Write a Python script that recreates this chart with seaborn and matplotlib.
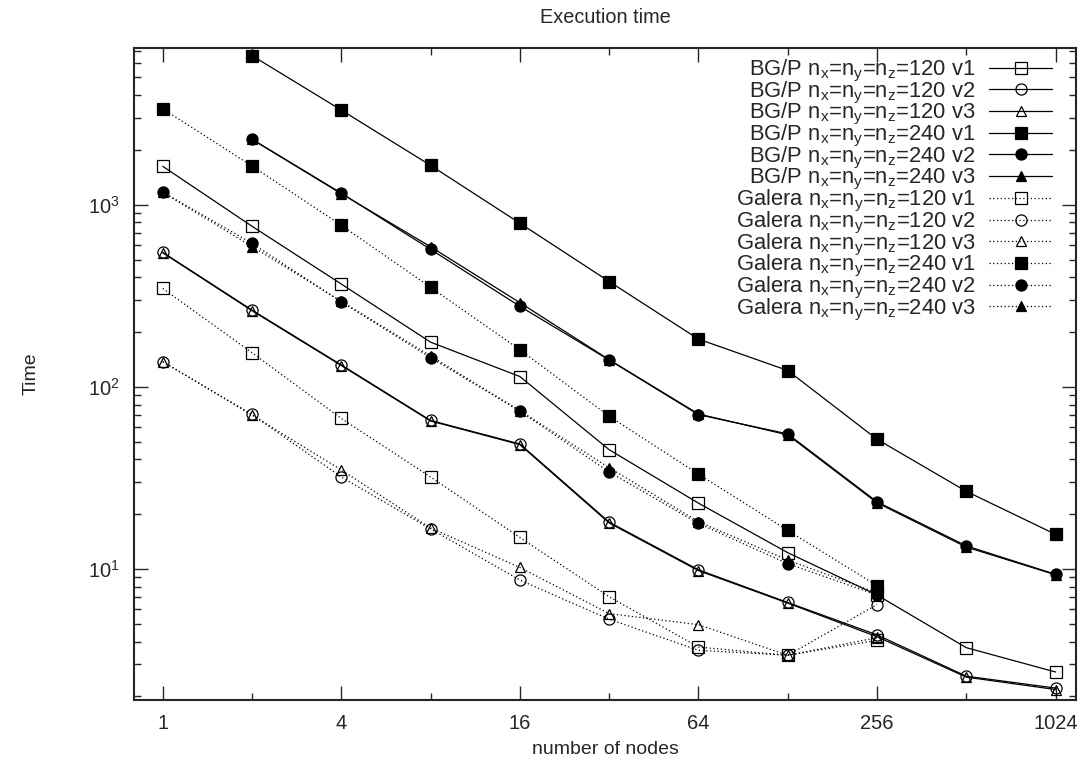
import pandas as pd
import seaborn as sns
import matplotlib.pyplot as plt
from matplotlib.ticker import FixedLocator, FixedFormatter, LogLocator, NullFormatter

# node counts for each machine / problem size
nodes_bgp120 = [1, 2, 4, 8, 16, 32, 64, 128, 256, 512, 1024]
nodes_bgp240 = [2, 4, 8, 16, 32, 64, 128, 256, 512, 1024]
nodes_galera = [1, 2, 4, 8, 16, 32, 64, 128, 256]

# execution times
bgp_120_v1 = [1626, 762, 367, 176, 114, 45.2, 23.0, 12.3, 7.2, 3.7, 2.72]
bgp_120_v2 = [548, 264, 132, 65.4, 48.6, 18.1, 9.9, 6.55, 4.35, 2.58, 2.22]
bgp_120_v3 = [545, 262, 131, 65.0, 48.2, 17.9, 9.8, 6.5, 4.25, 2.55, 2.18]
bgp_240_v1 = [6590, 3310, 1645, 792, 379, 183, 123, 51.6, 26.7, 15.5]
bgp_240_v2 = [2290, 1158, 569, 277, 140.5, 70.4, 55.2, 23.4, 13.4, 9.35]
bgp_240_v3 = [2285, 1150, 588, 290, 141, 71, 54.5, 23.1, 13.2, 9.3]
gal_120_v1 = [347, 154, 67.1, 32.0, 14.9, 7.04, 3.73, 3.36, 4.06]
gal_120_v2 = [137.5, 70.6, 32.0, 16.6, 8.7, 5.3, 3.58, 3.36, 6.38]
gal_120_v3 = [137.5, 70.0, 35.0, 16.8, 10.2, 5.69, 4.95, 3.36, 4.2]
gal_240_v1 = [3363, 1632, 772, 352, 160, 69.0, 33.2, 16.3, 8.1]
gal_240_v2 = [1173, 614, 293, 144.7, 73.6, 34.1, 17.8, 10.7, 7.2]
gal_240_v3 = [1170, 590, 295, 148, 74, 36, 18.2, 11.2, 7.4]

sns.set_style("ticks")
plt.rcParams['font.family'] = ['Liberation Sans', 'DejaVu Sans']
plt.rcParams['mathtext.fontset'] = 'custom'
plt.rcParams['mathtext.rm'] = 'Liberation Sans'
plt.rcParams['mathtext.it'] = 'Liberation Sans'
plt.rcParams['mathtext.default'] = 'regular'

fig = plt.figure(figsize=(10.86, 7.65), dpi=100)
ax = fig.add_axes([0.1234, 0.085, 0.8674, 0.8523])

def label(machine, n, v):
    return machine + r" n$_x$=n$_y$=n$_z$=" + str(n) + " v" + str(v)

solid = '-'
dotted = (0, (1, 2))

series = [
    (nodes_bgp120, bgp_120_v1, label("BG/P", 120, 1), solid, 's', 'none', 8),
    (nodes_bgp120, bgp_120_v2, label("BG/P", 120, 2), solid, 'o', 'none', 8),
    (nodes_bgp120, bgp_120_v3, label("BG/P", 120, 3), solid, '^', 'none', 7),
    (nodes_bgp240, bgp_240_v1, label("BG/P", 240, 1), solid, 's', 'k', 8),
    (nodes_bgp240, bgp_240_v2, label("BG/P", 240, 2), solid, 'o', 'k', 8),
    (nodes_bgp240, bgp_240_v3, label("BG/P", 240, 3), solid, '^', 'k', 7),
    (nodes_galera, gal_120_v1, label("Galera", 120, 1), dotted, 's', 'none', 8),
    (nodes_galera, gal_120_v2, label("Galera", 120, 2), dotted, 'o', 'none', 8),
    (nodes_galera, gal_120_v3, label("Galera", 120, 3), dotted, '^', 'none', 7),
    (nodes_galera, gal_240_v1, label("Galera", 240, 1), dotted, 's', 'k', 8),
    (nodes_galera, gal_240_v2, label("Galera", 240, 2), dotted, 'o', 'k', 8),
    (nodes_galera, gal_240_v3, label("Galera", 240, 3), dotted, '^', 'k', 7),
]

for x, y, lab, ls, mk, fc, ms in series:
    df = pd.DataFrame({'nodes': x, 'time': y})
    sns.lineplot(data=df, x='nodes', y='time', ax=ax, color='k', linewidth=0.9,
                 linestyle=ls, marker=mk, markersize=ms, markerfacecolor=fc,
                 markeredgecolor='k', markeredgewidth=0.9, label=lab, legend=False)

ax.set_xscale('log', base=2)
ax.set_yscale('log')
ax.set_xlim(0.8, 1200)
ax.set_ylim(1.91, 7260)

ax.xaxis.set_major_locator(FixedLocator([1, 4, 16, 64, 256, 1024]))
ax.xaxis.set_major_formatter(FixedFormatter(['1', '4', '16', '64', '256', '1024']))
ax.xaxis.set_minor_locator(FixedLocator([2, 8, 32, 128, 512]))
ax.xaxis.set_minor_formatter(NullFormatter())
ax.yaxis.set_minor_locator(LogLocator(base=10, subs=range(2, 10)))
ax.yaxis.set_minor_formatter(NullFormatter())

ax.tick_params(which='both', direction='in', top=True, right=True, labelsize=14.5, width=1)
ax.tick_params(which='major', length=10, pad=10)
ax.tick_params(which='minor', length=5)
for s in ax.spines.values():
    s.set_linewidth(1.5)

ax.set_title("Execution time", fontsize=14.3, pad=18)
ax.set_xlabel("number of nodes", fontsize=14, labelpad=6)
ax.set_ylabel("Time", fontsize=14, labelpad=35)

# rows are packed tightly, as in the original: subscripts dip into the next row
ax.legend(loc='upper right', bbox_to_anchor=(0.975, 0.985), frameon=False,
          markerfirst=False, fontsize=15.8, labelspacing=-0.2, handlelength=2.9,
          handletextpad=0.6, borderpad=0, borderaxespad=0)

fig.savefig("out.png", dpi=100)
